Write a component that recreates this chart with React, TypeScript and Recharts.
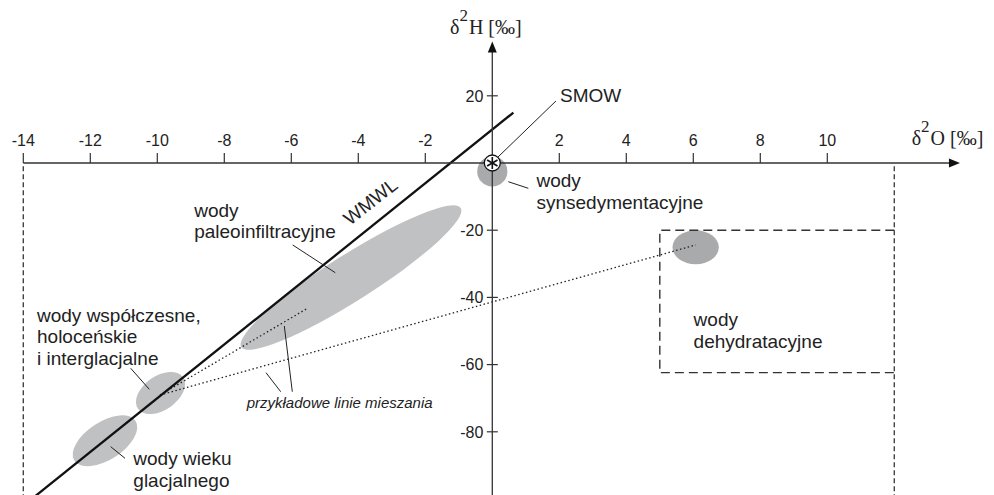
import React from 'react';
import { ScatterChart, Scatter, XAxis, YAxis } from 'recharts';

// ---------- data (δ18O on x, δ2H on y, per mille) ----------
const xTicks = [-14, -12, -10, -8, -6, -4, -2, 2, 4, 6, 8, 10];
const yTicks = [20, -20, -40, -60, -80];

// ellipses: [center, end of semi-major axis, end of semi-minor axis]
const ellipsePaleo = [{ x: -4.218, y: -34.1 }, { x: -0.943, y: -13.4 }, { x: -3.851, y: -39.9 }];
const ellipseHolocene = [{ x: -9.905, y: -68.45 }, { x: -9.233, y: -63.75 }, { x: -9.612, y: -72.6 }];
const ellipseGlacial = [{ x: -11.561, y: -82.68 }, { x: -10.648, y: -76.76 }, { x: -11.252, y: -87.41 }];
const ellipseSynsed = [{ x: 0, y: -2.5 }, { x: 0.45, y: -2.5 }, { x: 0, y: 2.0 }];
const ellipseDehydr = [{ x: 6.07, y: -25.1 }, { x: 6.76, y: -25.1 }, { x: 6.07, y: -20.05 }];

const wmwl = [{ x: -13.75, y: -100 }, { x: 0.63, y: 15 }];
const mixingLine1 = [{ x: -9.92, y: -69.05 }, { x: -5.5, y: -43.15 }];
const mixingLine2 = [{ x: -9.92, y: -69.05 }, { x: 6.07, y: -24.4 }];
const dehydrBox = [{ x: 12, y: -20 }, { x: 5, y: -20 }, { x: 5, y: -62.4 }, { x: 12, y: -62.4 }];
const leftBound = [{ x: -14, y: -1 }, { x: -14, y: -100 }];
const rightBound = [{ x: 12, y: -1 }, { x: 12, y: -100 }];

const xAxisLine = [{ x: -14, y: 0 }, { x: 13.7, y: 0 }];
const yAxisLine = [{ x: 0, y: -100 }, { x: 0, y: 34 }];
const xArrow = [{ x: 13.96, y: 0 }];
const yArrow = [{ x: 0, y: 36.16 }];
const smow = [{ x: 0, y: 0 }];

const leaders = [
  [{ x: 0.14, y: 1.49 }, { x: 1.9, y: 18.45 }],
  [{ x: 0.478, y: -5.57 }, { x: 1.075, y: -7.53 }],
  [{ x: -5.958, y: -24.4 }, { x: -4.687, y: -32.65 }],
  [{ x: -10.794, y: -61.1 }, { x: -10.239, y: -67.35 }],
  [{ x: -11.391, y: -84.43 }, { x: -10.964, y: -87.89 }],
  [{ x: -6.209, y: -48.51 }, { x: -5.97, y: -68.07 }],
  [{ x: -6.755, y: -62.41 }, { x: -6.316, y: -68.07 }],
];

const labels = [
  { x: 2.021, y: 18.24, lines: ['SMOW'] },
  { x: 1.319, y: -7.23, lines: ['wody', 'synsedymentacyjne'] },
  { x: -8.899, y: -15.98, lines: ['wody', 'paleoinfiltracyjne'] },
  { x: -13.591, y: -47.23, lines: ['wody współczesne,', 'holoceńskie', 'i interglacjalne'] },
  { x: -10.716, y: -89.88, lines: ['wody wieku', 'glacjalnego'] },
  { x: 6.009, y: -48.66, lines: ['wody', 'dehydratacyjne'] },
];
const mixingLabel = [{ x: -7.331, y: -73.0, text: 'przykładowe linie mieszania' }];
const wmwlLabel = [{ x: -3.516, y: -13.0, text: 'WMWL' }];
const yTitle = [{ x: -1.263, y: 38.54, main: 'δ', sup: '2', rest: 'H [‰]' }];
const xTitle = [{ x: 12.519, y: 5.357, main: 'δ', sup: '2', rest: 'O [‰]' }];

// ---------- styles ----------
const SANS = '"Liberation Sans", Arial, Helvetica, sans-serif';
const SERIF = '"Liberation Serif", "Times New Roman", serif';
const INK = '#222';
const AXIS = '#333';

const Empty = () => <g />;

const ellipseLine = (fill: string) => (props: any) => {
  const pts = props.points;
  if (!pts || pts.length < 3) return <g />;
  const [c, a, b] = pts;
  const rx = Math.hypot(a.x - c.x, a.y - c.y);
  const ry = Math.hypot(b.x - c.x, b.y - c.y);
  const ang = (Math.atan2(a.y - c.y, a.x - c.x) * 180) / Math.PI;
  return (
    <ellipse cx={c.x} cy={c.y} rx={rx} ry={ry} transform={`rotate(${ang} ${c.x} ${c.y})`} fill={fill} stroke="none" />
  );
};

const XTick = (p: any) => (
  <g>
    <line x1={p.cx} y1={p.cy} x2={p.cx} y2={p.cy - 10} stroke={AXIS} strokeWidth={1.2} />
    <text x={p.cx} y={p.cy - 16.6} textAnchor="middle" fontSize={16} fontFamily={SANS} fill={INK}>
      {p.payload.label}
    </text>
  </g>
);

const YTick = (p: any) => (
  <g>
    <line x1={p.cx - 5.5} y1={p.cy} x2={p.cx + 5.5} y2={p.cy} stroke={AXIS} strokeWidth={1.2} />
    <text x={p.cx - 9} y={p.cy + 5.8} textAnchor="end" fontSize={16} fontFamily={SANS} fill={INK}>
      {p.payload.label}
    </text>
  </g>
);

const XArrowShape = (p: any) => (
  <polygon points={`${p.cx},${p.cy} ${p.cx - 11},${p.cy - 4.5} ${p.cx - 11},${p.cy + 4.5}`} fill="#111" />
);
const YArrowShape = (p: any) => (
  <polygon points={`${p.cx},${p.cy} ${p.cx - 4.5},${p.cy + 11} ${p.cx + 4.5},${p.cy + 11}`} fill="#111" />
);

const SmowShape = (p: any) => {
  const r = 8;
  const arm = 6;
  const angles = [90, 30, 150];
  return (
    <g>
      <circle cx={p.cx} cy={p.cy} r={r} fill="#fff" stroke="#111" strokeWidth={1.3} />
      {angles.map((a) => {
        const dx = Math.cos((a * Math.PI) / 180) * arm;
        const dy = Math.sin((a * Math.PI) / 180) * arm;
        return (
          <line key={a} x1={p.cx - dx} y1={p.cy - dy} x2={p.cx + dx} y2={p.cy + dy} stroke="#111" strokeWidth={1.6} />
        );
      })}
    </g>
  );
};

const LabelShape = (p: any) => (
  <text x={p.cx} y={p.cy} fontSize={19} fontFamily={SANS} fill={INK}>
    {p.payload.lines.map((l: string, i: number) => (
      <tspan key={i} x={p.cx} dy={i === 0 ? 0 : 21.6}>
        {l}
      </tspan>
    ))}
  </text>
);

const MixLabelShape = (p: any) => (
  <text x={p.cx} y={p.cy} fontSize={15} fontStyle="italic" fontFamily={SANS} fill={INK}>
    {p.payload.text}
  </text>
);

const WmwlLabelShape = (p: any) => (
  <text
    x={p.cx}
    y={p.cy}
    textAnchor="middle"
    fontSize={19}
    fontFamily={SANS}
    fill={INK}
    transform={`rotate(-38.3 ${p.cx} ${p.cy})`}
  >
    {p.payload.text}
  </text>
);

const TitleShape = (p: any) => (
  <text x={p.cx} y={p.cy} fontSize={20} fontFamily={SERIF} fill={INK}>
    {p.payload.main}
    <tspan fontSize={17} dy={-13}>
      {p.payload.sup}
    </tspan>
    <tspan fontSize={20} dy={13} dx={1}>
      {p.payload.rest}
    </tspan>
  </text>
);

const xTickData = xTicks.map((v) => ({ x: v, y: 0, label: String(v) }));
const yTickData = yTicks.map((v) => ({ x: 0, y: v, label: String(v) }));

const lineSeries = (data: any[], style: any, key: string) => (
  <Scatter
    key={key}
    data={data}
    line={style}
    lineType="joint"
    shape={Empty}
    isAnimationActive={false}
  />
);

export default function App() {
  return (
    <div
      style={{
        position: 'absolute',
        left: 0,
        top: 0,
        width: 994,
        height: 495,
        overflow: 'hidden',
        background: '#fff',
      }}
    >
      <ScatterChart width={994} height={500} margin={{ top: 28.6, right: 15.95, bottom: 1, left: 6.55 }}>
        <XAxis type="number" dataKey="x" domain={[-14.5, 14.5]} hide />
        <YAxis type="number" dataKey="y" domain={[-100, 40]} hide />

        <Scatter data={ellipsePaleo} line={ellipseLine('#c0c1c3')} lineType="joint" shape={Empty} isAnimationActive={false} />
        <Scatter data={ellipseHolocene} line={ellipseLine('#c0c1c3')} lineType="joint" shape={Empty} isAnimationActive={false} />
        <Scatter data={ellipseGlacial} line={ellipseLine('#c0c1c3')} lineType="joint" shape={Empty} isAnimationActive={false} />
        <Scatter data={ellipseSynsed} line={ellipseLine('#a9aaac')} lineType="joint" shape={Empty} isAnimationActive={false} />
        <Scatter data={ellipseDehydr} line={ellipseLine('#a9aaac')} lineType="joint" shape={Empty} isAnimationActive={false} />

        {lineSeries(leftBound, { stroke: '#444', strokeWidth: 1.4, strokeDasharray: '5 3', fill: 'none' }, 'lb')}
        {lineSeries(rightBound, { stroke: '#444', strokeWidth: 1.4, strokeDasharray: '5 3', fill: 'none' }, 'rb')}
        {lineSeries(dehydrBox, { stroke: '#333', strokeWidth: 1.4, strokeDasharray: '9 5', fill: 'none' }, 'box')}

        {lineSeries(mixingLine1, { stroke: '#222', strokeWidth: 1.3, strokeDasharray: '1.5 2.5', fill: 'none' }, 'm1')}
        {lineSeries(mixingLine2, { stroke: '#222', strokeWidth: 1.3, strokeDasharray: '1.5 2.5', fill: 'none' }, 'm2')}

        {lineSeries(wmwl, { stroke: '#111', strokeWidth: 2.3, fill: 'none' }, 'wmwl')}

        {lineSeries(xAxisLine, { stroke: AXIS, strokeWidth: 1.3, fill: 'none' }, 'xa')}
        {lineSeries(yAxisLine, { stroke: AXIS, strokeWidth: 1.3, fill: 'none' }, 'ya')}
        <Scatter data={xArrow} shape={XArrowShape} isAnimationActive={false} />
        <Scatter data={yArrow} shape={YArrowShape} isAnimationActive={false} />
        <Scatter data={xTickData} shape={XTick} isAnimationActive={false} />
        <Scatter data={yTickData} shape={YTick} isAnimationActive={false} />

        {leaders.map((l, i) => lineSeries(l, { stroke: '#222', strokeWidth: 1, fill: 'none' }, 'ld' + i))}

        <Scatter data={smow} shape={SmowShape} isAnimationActive={false} />

        <Scatter data={labels} shape={LabelShape} isAnimationActive={false} />
        <Scatter data={mixingLabel} shape={MixLabelShape} isAnimationActive={false} />
        <Scatter data={wmwlLabel} shape={WmwlLabelShape} isAnimationActive={false} />
        <Scatter data={yTitle} shape={TitleShape} isAnimationActive={false} />
        <Scatter data={xTitle} shape={TitleShape} isAnimationActive={false} />
      </ScatterChart>
    </div>
  );
}
